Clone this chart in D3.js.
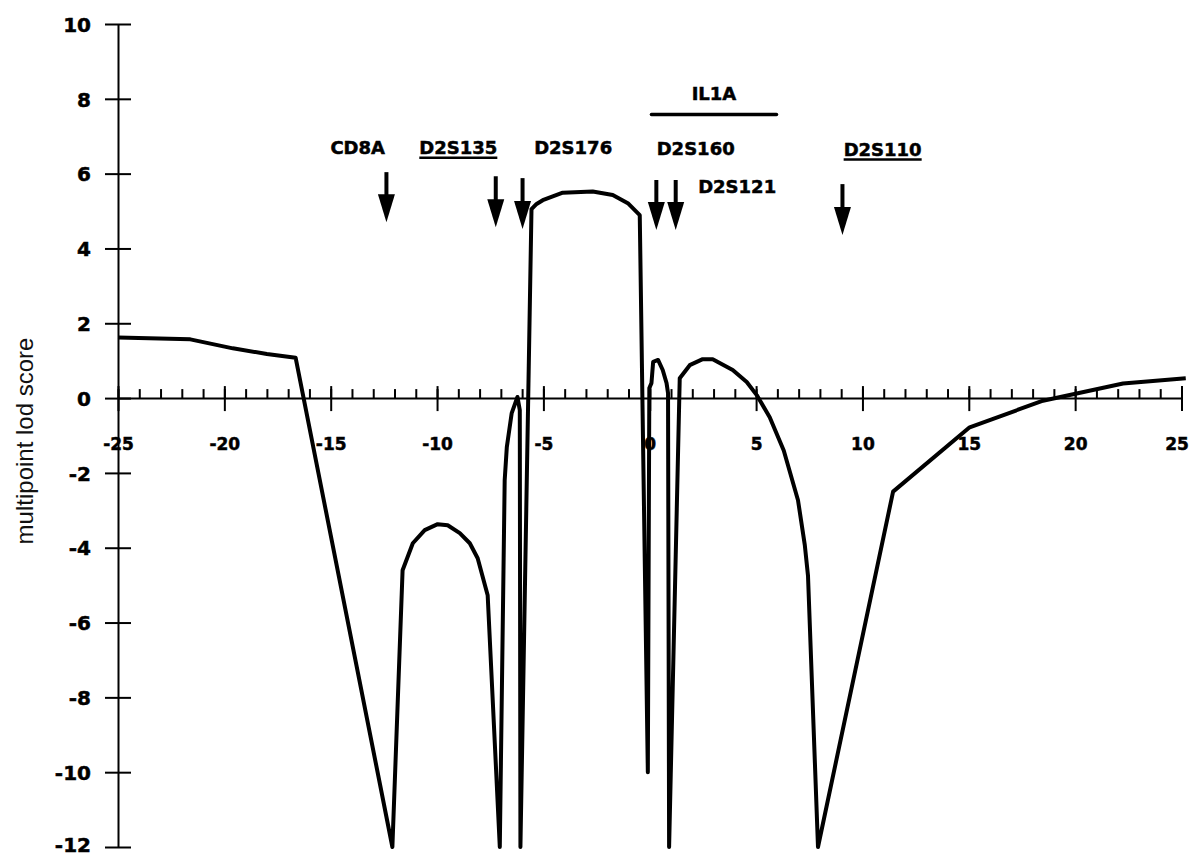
<!DOCTYPE html>
<html>
<head>
<meta charset="utf-8">
<script src="https://cdn.jsdelivr.net/npm/d3@7"></script>
<style>
  body { margin: 0; background: #fff; }
  svg { display: block; }
</style>
</head>
<body>
<svg id="chart"></svg>
<script>
// map position (cM) and multipoint lod score along the curve
const positions = [
  -25.0, -21.6, -21.1, -19.6, -18.0, -16.65,
  -12.1, -11.62, -11.14, -10.58, -9.97, -9.5, -8.93, -8.46, -8.09, -7.62,
  -7.05, -6.82, -6.72, -6.49, -6.22, -6.11,
  -6.08, -5.56, -5.32, -5.03, -4.09, -2.68, -1.74, -1.03, -0.47,
  -0.09, -0.02, 0.08, 0.16, 0.39, 0.61, 0.79, 0.86,
  0.91, 1.41, 1.88, 2.49, 2.96, 3.9, 4.56, 5.03, 5.64, 6.3, 6.97, 7.29, 7.44,
  7.91, 11.44, 15.04, 18.49, 22.25, 25.2
];
const lodScores = [
  1.62, 1.57, 1.51, 1.33, 1.18, 1.08,
  -12.0, -4.6, -3.88, -3.53, -3.37, -3.4, -3.61, -3.88, -4.28, -5.27,
  -12.0, -2.19, -1.31, -0.4, 0.03, -0.32,
  -12.0, 5.05, 5.19, 5.29, 5.49, 5.52, 5.43, 5.21, 4.89,
  -10.0, 0.27, 0.4, 0.97, 1.02, 0.75, 0.4, 0.13,
  -12.0, 0.53, 0.88, 1.04, 1.04, 0.75, 0.43, 0.08, -0.51, -1.4, -2.73, -3.93, -4.75,
  -12.0, -2.5, -0.78, -0.07, 0.39, 0.53
];

// axis ticks
const xTicks = [-25, -20, -15, -10, -5, 0, 5, 10, 15, 20, 25];
const xTickLabels = ["-25", "-20", "-15", "-10", "-5", "0", "5", "10", "15", "20", "25"];
const yTicks = [-12, -10, -8, -6, -4, -2, 0, 2, 4, 6, 8, 10];
const yTickLabels = ["-12", "-10", "-8", "-6", "-4", "-2", "0", "2", "4", "6", "8", "10"];

// markers: arrow position, arrow top / tip (lod units), label position
const markerNames = ["CD8A", "D2S135", "D2S176", "D2S160", "D2S121", "D2S110"];
const markerPos = [-12.38, -7.24, -5.98, 0.31, 1.22, 9.06];
const arrowTop = [6.04, 5.93, 5.88, 5.83, 5.83, 5.72];
const arrowTip = [4.70, 4.57, 4.52, 4.49, 4.49, 4.36];
const labelPos = [-13.73, -9.0, -3.6, 2.16, 4.11, 10.95];
const labelLod = [6.52, 6.52, 6.52, 6.5, 5.48, 6.47];
const underlined = [false, true, false, false, false, true];

// IL1A gene span
const geneName = "IL1A";
const geneSpan = [0.08, 5.96];
const geneLod = 7.58;
const geneLabelLod = 7.97;

const width = 1193;
const height = 856;

const svg = d3.select("#chart").attr("width", width).attr("height", height);

const x = d3.scaleLinear().domain([-25, 25]).range([118, 1181.5]);
const y = d3.scaleLinear().domain([-12, 10]).range([847, 24]);

const boldFont = "'DejaVu Sans', 'Liberation Sans', sans-serif";

// heavy bold look of the original lettering
function heavy(sel, size) {
  sel
    .style("font-family", boldFont)
    .style("font-weight", "bold")
    .style("font-size", size)
    .attr("fill", "#000")
    .attr("stroke", "#000")
    .attr("stroke-width", 0.5);
}

// minor ticks on the x axis (every 1 cM, pointing up)
const minorAxis = svg
  .append("g")
  .attr("transform", `translate(0,${y(0)})`)
  .call(d3.axisTop(x).tickValues(d3.range(-25, 26)).tickSize(9).tickSizeOuter(0).tickFormat(""));
minorAxis.select(".domain").remove();

// x axis with major ticks crossing the line
const xAxis = svg
  .append("g")
  .attr("transform", `translate(0,${y(0)})`)
  .call(
    d3
      .axisBottom(x)
      .tickValues(xTicks)
      .tickSize(13)
      .tickSizeOuter(0)
      .tickFormat((d, i) => xTickLabels[i])
  );
xAxis.selectAll(".tick line").attr("y1", -12);
xAxis
  .selectAll(".tick text")
  .attr("y", 52)
  .attr("dy", 0)
  .attr("dx", (d) => (d === 25 ? -5 : 0))
  .call(heavy, "17px");

// y axis
const yAxis = svg
  .append("g")
  .attr("transform", `translate(${x(-25)},0)`)
  .call(
    d3
      .axisLeft(y)
      .tickValues(yTicks)
      .tickSize(13)
      .tickSizeOuter(0)
      .tickFormat((d, i) => yTickLabels[i])
  );
yAxis.selectAll(".tick line").attr("x1", 13);
yAxis
  .selectAll(".tick text")
  .attr("x", -27)
  .attr("dy", (d) => (d === -12 ? "0.2em" : "0.36em"))
  .call(heavy, "20px");

svg.selectAll(".domain, .tick line").attr("stroke", "#000").attr("stroke-width", 2);

// y axis title
svg
  .append("text")
  .attr("transform", `translate(33,441) rotate(-90)`)
  .attr("text-anchor", "middle")
  .style("font-family", "'Liberation Sans', Arial, sans-serif")
  .style("font-size", "24px")
  .attr("fill", "#111")
  .text("multipoint lod score");

// lod curve
const curveData = positions.map((p, i) => ({ pos: p, lod: lodScores[i] }));
const line = d3
  .line()
  .x((d) => x(d.pos))
  .y((d) => y(d.lod));

svg
  .append("path")
  .datum(curveData)
  .attr("d", line)
  .attr("fill", "none")
  .attr("stroke", "#000")
  .attr("stroke-width", 4)
  .attr("stroke-linejoin", "round");

// marker arrows
const headLen = 28;
const headHalf = 8.5;
const arrows = svg
  .selectAll(".arrow")
  .data(markerNames.map((n, i) => ({ name: n, pos: markerPos[i], top: arrowTop[i], tip: arrowTip[i] })))
  .enter()
  .append("g")
  .attr("class", "arrow");

arrows
  .append("line")
  .attr("x1", (d) => x(d.pos))
  .attr("x2", (d) => x(d.pos))
  .attr("y1", (d) => y(d.top))
  .attr("y2", (d) => y(d.tip) - headLen + 2)
  .attr("stroke", "#000")
  .attr("stroke-width", 4);

arrows
  .append("path")
  .attr("d", (d) => {
    const cx = x(d.pos);
    const ty = y(d.tip);
    return `M${cx - headHalf},${ty - headLen}L${cx + headHalf},${ty - headLen}L${cx},${ty}Z`;
  })
  .attr("fill", "#000");

// marker labels
const labels = svg
  .selectAll(".marker-label")
  .data(markerNames.map((n, i) => ({ name: n, pos: labelPos[i], lod: labelLod[i], u: underlined[i] })))
  .enter()
  .append("text")
  .attr("class", "marker-label")
  .attr("x", (d) => x(d.pos))
  .attr("y", (d) => y(d.lod))
  .attr("text-anchor", "middle")
  .call(heavy, "18px")
  .text((d) => d.name);

labels.each(function (d) {
  if (!d.u) return;
  const bb = this.getBBox();
  svg
    .append("line")
    .attr("x1", bb.x)
    .attr("x2", bb.x + bb.width)
    .attr("y1", y(d.lod) + 3.5)
    .attr("y2", y(d.lod) + 3.5)
    .attr("stroke", "#000")
    .attr("stroke-width", 2.5);
});

// IL1A span
svg
  .append("line")
  .attr("x1", x(geneSpan[0]))
  .attr("x2", x(geneSpan[1]))
  .attr("y1", y(geneLod))
  .attr("y2", y(geneLod))
  .attr("stroke", "#000")
  .attr("stroke-width", 3.5)
  .attr("stroke-linecap", "round");

svg
  .append("text")
  .attr("x", x((geneSpan[0] + geneSpan[1]) / 2))
  .attr("y", y(geneLabelLod))
  .attr("text-anchor", "middle")
  .call(heavy, "18px")
  .text(geneName);
</script>
</body>
</html>
